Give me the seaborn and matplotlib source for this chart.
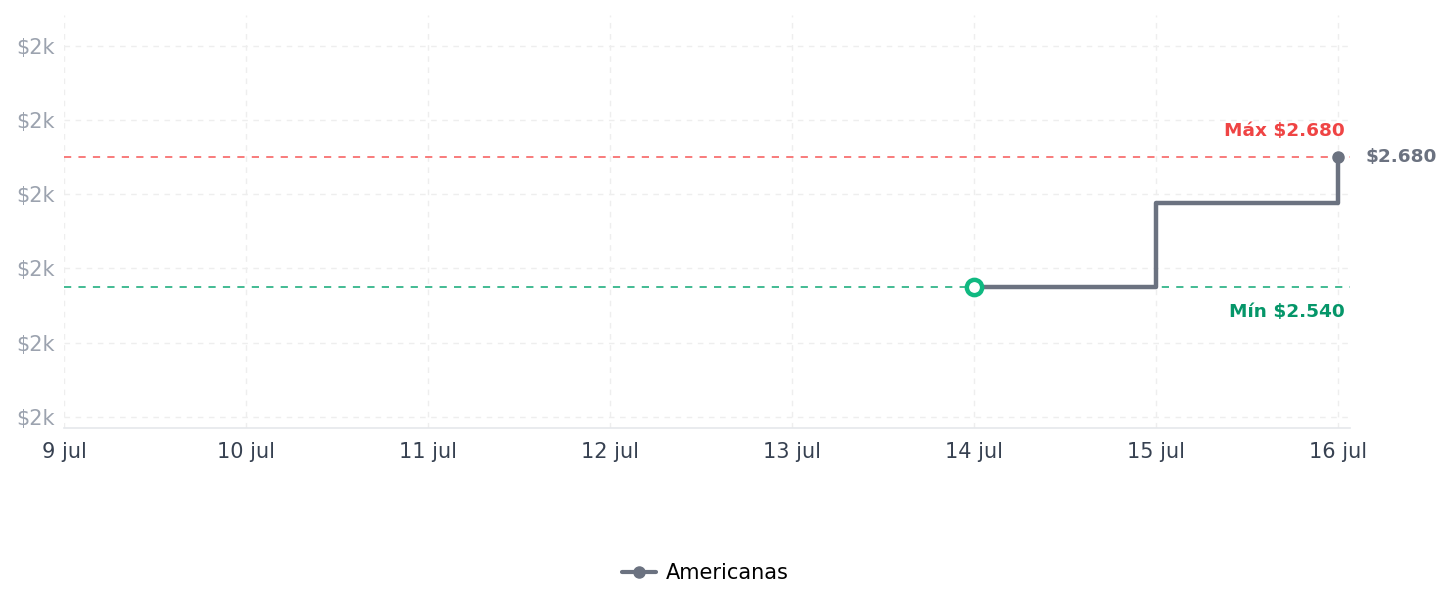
import pandas as pd
import numpy as np
import seaborn as sns
import matplotlib.pyplot as plt
import matplotlib.dates as mdates
from matplotlib.lines import Line2D
from matplotlib.ticker import FuncFormatter

# Price history (daily)
dates = ['2024-07-14', '2024-07-15', '2024-07-16']
prices = [2540, 2630, 2680]
store = 'Americanas'
y_ticks = [2400, 2480, 2560, 2640, 2720, 2800]
x_start = '2024-07-09'
x_end = '2024-07-16'

df = pd.DataFrame({'date': pd.to_datetime(dates), 'price': prices})
p_max = df['price'].max()
p_min = df['price'].min()

sns.set_theme(style='white')
plt.rcParams['font.family'] = 'sans-serif'
plt.rcParams['font.sans-serif'] = ['DejaVu Sans']

fig = plt.figure(figsize=(14.52, 6.07), dpi=100)
ax = fig.add_axes([0.0441, 0.2949, 0.8857, 0.6801])

line_c = '#6b7280'
sns.lineplot(data=df, x='date', y='price', ax=ax, color=line_c, linewidth=3.2,
             drawstyle='steps-post', legend=False, zorder=3)

# reference lines
ax.axhline(p_max, color='#f87171', linestyle=(0, (4, 4)), linewidth=1.3, zorder=2)
ax.axhline(p_min, color='#34b58a', linestyle=(0, (4, 4)), linewidth=1.3, zorder=2)

# first point hollow green, last point grey dot
ax.plot(df['date'].iloc[0], df['price'].iloc[0], 'o', markersize=11,
        markerfacecolor='white', markeredgecolor='#10b981', markeredgewidth=3.2, zorder=5)
ax.plot(df['date'].iloc[-1], df['price'].iloc[-1], 'o', markersize=8,
        color=line_c, zorder=5)

x0 = mdates.date2num(pd.Timestamp(x_start))
x1 = mdates.date2num(pd.Timestamp(x_end))
ax.set_xlim(x0, x1 + 0.066)
ax.set_ylim(2388, 2833)

last_x = mdates.date2num(df['date'].iloc[-1])
ax.annotate(f'Máx ${p_max:,}'.replace(',', '.'), xy=(last_x, p_max), xytext=(5, 18.5),
            textcoords='offset points', ha='right', va='center',
            color='#ef4444', fontsize=13.3, fontweight='bold')
ax.annotate(f'Mín ${p_min:,}'.replace(',', '.'), xy=(last_x, p_min), xytext=(5, -18),
            textcoords='offset points', ha='right', va='center',
            color='#059669', fontsize=13.3, fontweight='bold')
ax.annotate(f'${prices[-1]:,}'.replace(',', '.'), xy=(last_x, prices[-1]), xytext=(20, 0),
            textcoords='offset points', ha='left', va='center',
            color=line_c, fontsize=13.3, fontweight='bold', annotation_clip=False)

ax.set_yticks(y_ticks)
ax.yaxis.set_major_formatter(FuncFormatter(lambda v, p: f'${int(v // 1000)}k'))
ax.xaxis.set_major_locator(mdates.DayLocator())
ax.xaxis.set_major_formatter(FuncFormatter(
    lambda v, p: f'{mdates.num2date(v).day} jul'))

ax.tick_params(axis='y', length=0, pad=7, labelsize=15, labelcolor='#9ca3af')
ax.tick_params(axis='x', length=0, pad=10, labelsize=15, labelcolor='#374151')
ax.grid(True, color='#eeeeee', linestyle=(0, (4, 4)), linewidth=1)
ax.set_xlabel('')
ax.set_ylabel('')
for s in ['top', 'right', 'left']:
    ax.spines[s].set_visible(False)
ax.spines['bottom'].set_color('#e5e7eb')
ax.spines['bottom'].set_linewidth(1.2)

handle = Line2D([0], [0], color=line_c, linewidth=3, marker='o', markersize=8)
fig.legend([handle], [store], loc='center', bbox_to_anchor=(0.486, 0.056),
           frameon=False, fontsize=15, handlelength=1.6, handletextpad=0.5,
           labelcolor='black')

fig.savefig('out.png', dpi=100, facecolor='white')
